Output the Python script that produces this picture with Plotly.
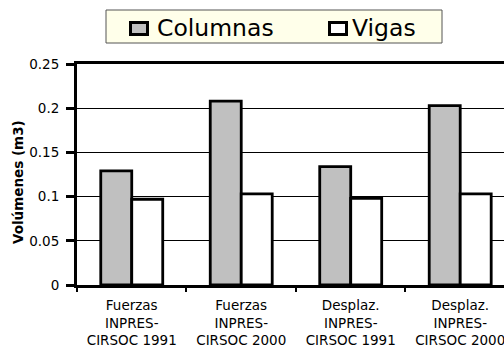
import plotly.graph_objects as go

# Structural volumes per design criterion
categories = [
    "Fuerzas<br>INPRES-<br>CIRSOC 1991",
    "Fuerzas<br>INPRES-<br>CIRSOC 2000",
    "Desplaz.<br>INPRES-<br>CIRSOC 1991",
    "Desplaz.<br>INPRES-<br>CIRSOC 2000",
]
series_names = ["Columnas", "Vigas"]
columnas = [0.129, 0.208, 0.134, 0.203]
vigas = [0.097, 0.103, 0.098, 0.103]
y_ticks = [0, 0.05, 0.1, 0.15, 0.2, 0.25]
y_tick_text = ["0", "0.05", "0.1", "0.15", "0.2", "0.25"]

FONT = "DejaVu Sans"
FILLS = ["#C0C0C0", "white"]

W, H = 504, 347
L, R, T, B = 77, 0, 64, 62


def px_x(p):
    """Pixel column -> paper x."""
    return (p - L) / (W - L - R)


def px_y(p):
    """Pixel row -> paper y."""
    return (H - B - p) / (H - T - B)


fig = go.Figure()
for name, vals, fill in zip(series_names, [columnas, vigas], FILLS):
    fig.add_trace(go.Bar(
        name=name, x=categories, y=vals, showlegend=False,
        marker=dict(color=fill, line=dict(color="black", width=2.8)),
    ))

# Boxed legend above the plot
shapes = [dict(
    type="rect", xref="paper", yref="paper",
    x0=px_x(106), x1=px_x(442), y0=px_y(43), y1=px_y(10),
    fillcolor="#FFFFEA", line=dict(color="#555555", width=1), layer="above",
)]
annotations = []
for name, fill, sx, tx in zip(series_names, FILLS, [130.5, 329.5], [155, 350]):
    shapes.append(dict(
        type="rect", xref="paper", yref="paper",
        x0=px_x(sx), x1=px_x(sx + 17), y0=px_y(34.5), y1=px_y(22.5),
        fillcolor=fill, line=dict(color="black", width=3), layer="above",
    ))
    annotations.append(dict(
        text=name, xref="paper", yref="paper", x=px_x(tx), y=px_y(28.5),
        xanchor="left", yanchor="middle", showarrow=False,
        font=dict(family=FONT, size=23.5, color="black"),
    ))

# Y axis title
annotations.append(dict(
    text="<b>Volúmenes (m3)</b>", xref="paper", yref="paper",
    x=px_x(18), y=px_y(182), xanchor="center", yanchor="middle",
    textangle=-90, showarrow=False,
    font=dict(family=FONT, size=13.5, color="black"),
))

fig.update_layout(
    width=W, height=H,
    margin=dict(l=L, r=R, t=T, b=B),
    paper_bgcolor="white", plot_bgcolor="white",
    barmode="group", bargap=0.434, bargroupgap=0,
    font=dict(family=FONT, color="black", size=12),
    showlegend=False,
    shapes=shapes, annotations=annotations,
    xaxis=dict(
        range=[-0.5, 3.4],
        showline=True, linecolor="black", linewidth=3, mirror=True,
        ticks="outside", tickson="boundaries", ticklen=4, tickwidth=2,
        tickcolor="black", ticklabelstandoff=6,
        tickfont=dict(family=FONT, size=13.5),
        showgrid=False,
    ),
    yaxis=dict(
        range=[0, 0.25],
        tickvals=y_ticks, ticktext=y_tick_text,
        showline=True, linecolor="black", linewidth=3,
        ticks="outside", ticklen=8, tickwidth=3, tickcolor="black",
        ticklabelstandoff=4,
        tickfont=dict(family=FONT, size=13.5),
        showgrid=True, gridcolor="black", gridwidth=1,
        zeroline=False,
    ),
)

fig.write_html("out.html")
